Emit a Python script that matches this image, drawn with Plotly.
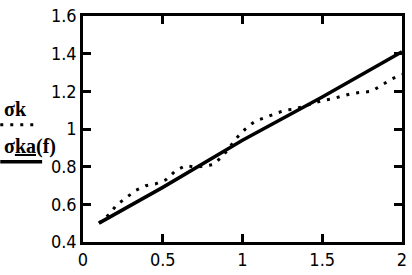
import plotly.graph_objects as go

# data
f_k = [0.1, 0.165, 0.21, 0.273, 0.331, 0.394, 0.456, 0.519, 0.581, 0.644, 0.706, 0.77, 0.819,
       0.88, 0.919, 0.9625, 1.017, 1.079, 1.142, 1.2, 1.267, 1.325, 1.4, 1.5, 1.56,
       1.627, 1.689, 1.748, 1.81, 1.873, 1.935, 2.0]
sigma_k = [0.50, 0.547, 0.596, 0.637, 0.674, 0.699, 0.709, 0.730, 0.779, 0.806, 0.797, 0.805, 0.812,
           0.86, 0.906, 0.952, 0.999, 1.042, 1.061, 1.080, 1.100, 1.105, 1.125, 1.151, 1.160,
           1.176, 1.189, 1.195, 1.200, 1.233, 1.265, 1.29]
f_a = [0.1, 0.5, 1.0, 1.5, 2.0]
sigma_ka = [0.50, 0.69, 0.94, 1.17, 1.41]

x_ticks = [0, 0.5, 1, 1.5, 2]
x_ticklabels = ["0", "0.5", "1", "1.5", "2"]
y_ticks = [0.4, 0.6, 0.8, 1.0, 1.2, 1.4, 1.6]
y_ticklabels = ["0.4", "0.6", "0.8", "1", "1.2", "1.4", "1.6"]

FONT = "DejaVu Sans Condensed, Liberation Sans Narrow, Liberation Sans, sans-serif"

fig = go.Figure()
fig.add_trace(go.Scatter(x=f_k, y=sigma_k, mode="lines",
                         line=dict(color="black", width=3, dash="3px,7px"),
                         showlegend=False, cliponaxis=False))
fig.add_trace(go.Scatter(x=f_a, y=sigma_ka, mode="lines",
                         line=dict(color="black", width=3.5),
                         showlegend=False))

axis_common = dict(showline=True, linecolor="black", linewidth=2.5, mirror="ticks",
                   ticks="inside", ticklen=8, tickwidth=2.5, tickcolor="black",
                   showgrid=False, zeroline=False, ticklabeloverflow="allow",
                   tickfont=dict(family=FONT, size=18, color="black"))

fig.update_xaxes(range=[-0.0002, 2.0002], tickvals=x_ticks, ticktext=x_ticklabels, **axis_common)
fig.update_yaxes(range=[0.3998, 1.6002], tickvals=y_ticks, ticktext=y_ticklabels, **axis_common)

fig.update_layout(
    width=412, height=275,
    margin=dict(l=83, r=9, t=5, b=25),
    plot_bgcolor="white", paper_bgcolor="white",
)

# left-side legend (Mathcad style: label above line sample)
fig.add_annotation(x=0, y=(250 - 106) / 245, xref="paper", yref="paper",
                   text="<b>σk</b>", showarrow=False, xanchor="left", yanchor="middle",
                   xshift=-81, font=dict(family="Liberation Serif, serif", size=20, color="black"))
fig.add_annotation(x=0, y=(250 - 146) / 245, xref="paper", yref="paper",
                   text="<b>σ<u>ka</u>(f)</b>", showarrow=False, xanchor="left", yanchor="middle",
                   xshift=-81, font=dict(family="Liberation Serif, serif", size=20, color="black"))
fig.add_shape(type="line", xref="paper", yref="paper",
              x0=-83 / 320, x1=-43 / 320, y0=(250 - 123) / 245, y1=(250 - 123) / 245,
              line=dict(color="black", width=3, dash="3px,7px"))
fig.add_shape(type="line", xref="paper", yref="paper",
              x0=-83 / 320, x1=-41 / 320, y0=(250 - 163) / 245, y1=(250 - 163) / 245,
              line=dict(color="black", width=3.5))

fig.write_html("out.html", config={"displayModeBar": False},
               post_script="document.body.style.margin='0';document.body.style.overflow='hidden';")
